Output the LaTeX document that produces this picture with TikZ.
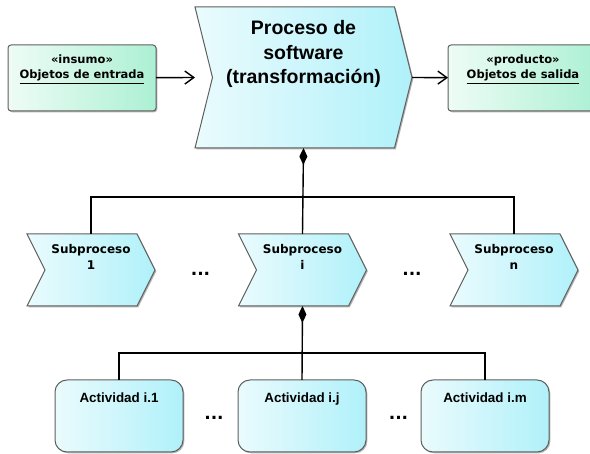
\documentclass[tikz,border=0pt]{standalone}
\usepackage{fontspec}
\setmainfont{Liberation Sans}
\newfontfamily\verdana{DejaVu Sans}
\usetikzlibrary{positioning,arrows.meta,shadows}

\definecolor{cianA}{RGB}{234,251,253}
\definecolor{cianB}{RGB}{176,241,250}
\definecolor{verdeA}{RGB}{238,252,245}
\definecolor{verdeB}{RGB}{172,240,212}
\definecolor{borde}{RGB}{95,95,95}

\tikzset{
  sombra/.style={drop shadow={shadow xshift=1.3pt, shadow yshift=-1.3pt, fill=black, opacity=0.3}},
  marco/.style={inner sep=0pt, outer sep=0pt},
  chevron/.style={draw=borde, line width=1pt, left color=cianA, right color=cianB, sombra},
  caja/.style={marco, draw=borde, line width=1pt, rounded corners=3pt, left color=verdeA, right color=verdeB, sombra, minimum height=66pt},
  actividad/.style={marco, draw=borde, line width=1pt, rounded corners=12pt, left color=cianA, right color=cianB, sombra, minimum width=128pt, minimum height=72pt},
  tproc/.style={inner sep=0pt, align=center, font=\bfseries\fontsize{19.5}{24.5}\selectfont},
  tcaja/.style={inner sep=0pt, align=center, font=\verdana\bfseries\fontsize{11.5}{15}\selectfont},
  tsub/.style={inner sep=0pt, align=center, font=\verdana\bfseries\fontsize{12}{15.5}\selectfont},
  tact/.style={inner sep=0pt, align=center, font=\bfseries\fontsize{13.4}{16}\selectfont},
  puntos/.style={inner sep=0pt, font=\verdana\bfseries\fontsize{17}{17}\selectfont},
  linea/.style={draw=black, line width=1.4pt},
  flecha/.style={linea, -{Straight Barb[length=9pt,width=13pt]}},
  comp/.style={linea, {Diamond[length=17pt,width=8pt]}-}
}

\begin{document}
\begin{tikzpicture}[x=1pt, y=-1pt]
  \useasboundingbox (0,0) rectangle (590,454);

  % --- Nodos (cuerpos) ---
  \node[marco, minimum width=217pt, minimum height=141pt] (proceso) at (303.5,77.5) {};
  \node[marco, minimum width=128pt, minimum height=72pt] (sub1) at (91,270) {};
  \node[marco, minimum width=128pt, minimum height=72pt] (subi) at (302.5,270) {};
  \node[marco, minimum width=128pt, minimum height=72pt] (subn) at (514,270) {};

  % --- Flechas de proceso ---
  \foreach \n/\p in {proceso/17.5, sub1/18, subi/18, subn/18}
    \draw[chevron] (\n.north west) -- ([xshift=-\p pt]\n.north east) -- (\n.east)
      -- ([xshift=-\p pt]\n.south east) -- (\n.south west) -- ([xshift=\p pt]\n.west) -- cycle;

  % --- Entrada y salida ---
  \node[caja, minimum width=148pt] (entrada) at (82,78) {};
  \node[caja, minimum width=150pt] (salida) at (523,78) {};

  % --- Actividades ---
  \node[actividad] (act1) at (119,416) {};
  \node[actividad] (actj) at (302,416) {};
  \node[actividad] (actm) at (485,416) {};

  % --- Textos ---
  \node[tproc, below=13.5pt of proceso.north] (tproceso) {Proceso de\\software\\(transformación)};
  \node[tcaja, below=10pt of entrada.north] (tentrada) {«insumo»\\\underline{Objetos de entrada}};
  \node[tcaja, below=10pt of salida.north] (tsalida) {«producto»\\\underline{Objetos de salida}};
  \node[tsub, below=10.5pt of sub1.north] (tsub1) {Subproceso\\1};
  \node[tsub, below=10.5pt of subi.north] (tsubi) {Subproceso\\i};
  \node[tsub, below=10.5pt of subn.north] (tsubn) {Subproceso\\n};
  \node[tact, below=13pt of act1.north] (tact1) {Actividad i.1};
  \node[tact, below=13pt of actj.north] (tactj) {Actividad i.j};
  \node[tact, below=13pt of actm.north] (tactm) {Actividad i.m};

  % --- Puntos suspensivos ---
  \node[puntos] (p1) at (200.5,274) {...};
  \node[puntos] (p2) at (412,274) {...};
  \node[puntos] (p3) at (214,418) {...};
  \node[puntos] (p4) at (398.5,418) {...};

  % --- Conectores ---
  \draw[flecha] (entrada) -- (proceso.west);
  \draw[flecha] (proceso.east) -- (salida);

  \coordinate (bus1) at (302.5,197);
  \coordinate (bus2) at (302,353);
  \draw[comp] (proceso.south) -- (subi.north);
  \draw[linea] (sub1.north) |- (bus1) -| (subn.north);
  \draw[comp] (subi.south) -- (actj.north);
  \draw[linea] (act1.north) |- (bus2) -| (actm.north);
\end{tikzpicture}
\end{document}
